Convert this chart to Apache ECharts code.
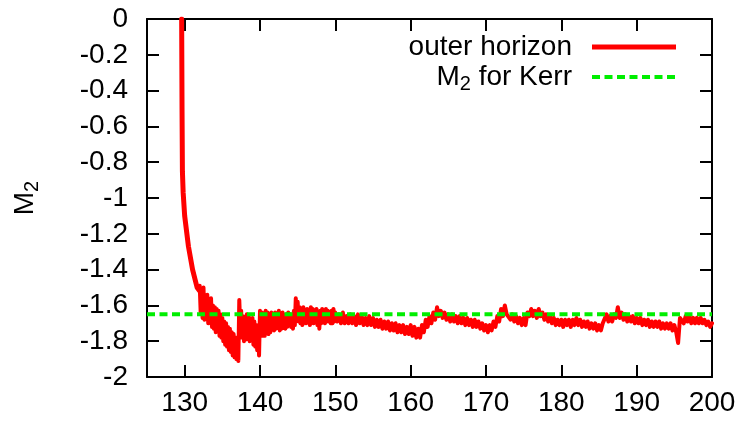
<!DOCTYPE html>
<html>
<head>
<meta charset="utf-8">
<script src="https://cdn.jsdelivr.net/npm/echarts@6/dist/echarts.min.js"></script>
<style>
html,body{margin:0;padding:0;background:#fff;}
#c{width:742px;height:421px;}
</style>
</head>
<body>
<div id="c"></div>
<script>
// ---- data ----
var xTicks = [130, 140, 150, 160, 170, 180, 190, 200];
var yTicks = [0, -0.2, -0.4, -0.6, -0.8, -1, -1.2, -1.4, -1.6, -1.8, -2];
// outer horizon: steep initial drop
var horizonSteep = [[129.6, 0], [129.65, -0.5], [129.7, -0.85], [129.8, -0.97], [130.0, -1.10],
  [130.5, -1.27], [131.05, -1.40], [131.65, -1.50], [132.0, -1.52]];
// outer horizon: noisy part (upper/lower extremes of the fluctuating curve)
var horizonNoisy = [
  [132.0, -1.49], [132.125, -1.64], [132.25, -1.52], [132.375, -1.67], [132.5, -1.50], [132.625, -1.68],
  [132.75, -1.55], [132.875, -1.67], [133.0, -1.54], [133.125, -1.70], [133.25, -1.57], [133.375, -1.69],
  [133.5, -1.56], [133.625, -1.72], [133.75, -1.60], [133.875, -1.73], [134.0, -1.61], [134.125, -1.75],
  [134.25, -1.62], [134.375, -1.74], [134.5, -1.63], [134.625, -1.77], [134.75, -1.65], [134.875, -1.78],
  [135.0, -1.67], [135.125, -1.80], [135.25, -1.69], [135.375, -1.82], [135.5, -1.70], [135.625, -1.83],
  [135.75, -1.72], [135.875, -1.85], [136.0, -1.73], [136.125, -1.86], [136.25, -1.75], [136.375, -1.88],
  [136.5, -1.76], [136.625, -1.89], [136.75, -1.78], [136.875, -1.90], [137.0, -1.80], [137.125, -1.91],
  [137.25, -1.57], [137.375, -1.72], [137.5, -1.63], [137.625, -1.78], [137.75, -1.66], [137.875, -1.80],
  [138.0, -1.67], [138.125, -1.79], [138.25, -1.65], [138.375, -1.78], [138.5, -1.66], [138.625, -1.80],
  [138.75, -1.68], [138.875, -1.79], [139.0, -1.67], [139.125, -1.82], [139.25, -1.69], [139.375, -1.83],
  [139.5, -1.71], [139.625, -1.85], [139.75, -1.73], [139.875, -1.88], [140.0, -1.63], [140.125, -1.75],
  [140.25, -1.64], [140.375, -1.77], [140.5, -1.65], [140.625, -1.77], [140.75, -1.63], [140.875, -1.75],
  [141.0, -1.64], [141.125, -1.76], [141.25, -1.65], [141.375, -1.75], [141.5, -1.64], [141.625, -1.73],
  [141.75, -1.66], [141.875, -1.74], [142.0, -1.64], [142.125, -1.73], [142.25, -1.65], [142.375, -1.72],
  [142.5, -1.63], [142.625, -1.74], [142.75, -1.65], [142.875, -1.73], [143.0, -1.64], [143.125, -1.72],
  [143.25, -1.66], [143.375, -1.73], [143.5, -1.65], [143.625, -1.72], [143.75, -1.64], [143.875, -1.71],
  [144.0, -1.65], [144.125, -1.72], [144.25, -1.66], [144.375, -1.73], [144.5, -1.63], [144.625, -1.71],
  [144.75, -1.56], [144.875, -1.67], [145.0, -1.58], [145.125, -1.69], [145.25, -1.61], [145.375, -1.70],
  [145.5, -1.62], [145.625, -1.71], [145.75, -1.61], [145.875, -1.69], [146.0, -1.63], [146.125, -1.70],
  [146.25, -1.62], [146.375, -1.69], [146.5, -1.64], [146.625, -1.71], [146.75, -1.61], [146.875, -1.69],
  [147.0, -1.62], [147.125, -1.70], [147.25, -1.63], [147.375, -1.69], [147.5, -1.62], [147.625, -1.71],
  [147.75, -1.64], [147.875, -1.73], [148.0, -1.63], [148.125, -1.70], [148.25, -1.62], [148.375, -1.69],
  [148.5, -1.63], [148.625, -1.70], [148.75, -1.62], [148.875, -1.69], [149.0, -1.63], [149.125, -1.69],
  [149.25, -1.64], [149.375, -1.70], [149.5, -1.63], [149.625, -1.70], [149.75, -1.62], [149.875, -1.69]
];
// outer horizon: settled part
var horizonSettled = [
  [150.0, -1.64], [150.25, -1.69], [150.5, -1.65], [150.75, -1.70], [151.0, -1.64], [151.25, -1.70],
  [151.5, -1.66], [151.75, -1.70], [152.0, -1.65], [152.25, -1.70], [152.5, -1.66], [152.75, -1.71],
  [153.0, -1.65], [153.25, -1.70], [153.5, -1.66], [153.75, -1.71], [154.0, -1.67], [154.25, -1.71],
  [154.5, -1.66], [154.75, -1.71], [155.0, -1.67], [155.25, -1.72], [155.5, -1.68], [155.75, -1.72],
  [156.0, -1.68], [156.25, -1.73], [156.5, -1.69], [156.75, -1.73], [157.0, -1.69], [157.25, -1.74],
  [157.5, -1.70], [157.75, -1.74], [158.0, -1.70], [158.25, -1.75], [158.5, -1.71], [158.75, -1.75],
  [159.0, -1.71], [159.25, -1.76], [159.5, -1.72], [159.75, -1.76], [160.0, -1.71], [160.25, -1.77],
  [160.5, -1.72], [160.75, -1.78], [161.0, -1.73], [161.25, -1.78], [161.5, -1.71], [161.75, -1.75],
  [162.0, -1.68], [162.25, -1.72], [162.5, -1.66], [162.75, -1.70], [163.0, -1.64], [163.25, -1.68],
  [163.5, -1.61], [163.75, -1.66], [164.0, -1.63], [164.25, -1.67], [164.5, -1.64], [164.75, -1.68],
  [165.0, -1.65], [165.25, -1.69], [165.5, -1.65], [165.75, -1.69], [166.0, -1.66], [166.25, -1.70],
  [166.5, -1.66], [166.75, -1.70], [167.0, -1.67], [167.25, -1.71], [167.5, -1.67], [167.75, -1.71],
  [168.0, -1.68], [168.25, -1.72], [168.5, -1.68], [168.75, -1.72], [169.0, -1.69], [169.25, -1.73],
  [169.5, -1.70], [169.75, -1.74], [170.0, -1.71], [170.25, -1.75], [170.5, -1.71], [170.75, -1.74],
  [171.0, -1.69], [171.25, -1.72], [171.5, -1.66], [171.75, -1.69], [172.0, -1.62], [172.25, -1.66],
  [172.5, -1.60], [172.75, -1.65], [173.0, -1.64], [173.25, -1.68], [173.5, -1.65], [173.75, -1.69],
  [174.0, -1.66], [174.25, -1.70], [174.5, -1.67], [174.75, -1.71], [175.0, -1.67], [175.25, -1.71],
  [175.5, -1.64], [175.75, -1.66], [176.0, -1.62], [176.25, -1.66], [176.5, -1.63], [176.75, -1.67],
  [177.0, -1.62], [177.25, -1.66], [177.5, -1.64], [177.75, -1.68], [178.0, -1.65], [178.25, -1.69],
  [178.5, -1.66], [178.75, -1.70], [179.0, -1.67], [179.25, -1.71], [179.5, -1.68], [179.75, -1.71],
  [180.0, -1.68], [180.25, -1.72], [180.5, -1.68], [180.75, -1.71], [181.0, -1.68], [181.25, -1.72],
  [181.5, -1.68], [181.75, -1.71], [182.0, -1.67], [182.25, -1.71], [182.5, -1.68], [182.75, -1.72],
  [183.0, -1.69], [183.25, -1.72], [183.5, -1.69], [183.75, -1.73], [184.0, -1.70], [184.25, -1.73],
  [184.5, -1.70], [184.75, -1.74], [185.0, -1.71], [185.25, -1.74], [185.5, -1.70], [185.75, -1.70],
  [186.0, -1.65], [186.25, -1.69], [186.5, -1.66], [186.75, -1.69], [187.0, -1.65], [187.25, -1.67],
  [187.5, -1.61], [187.75, -1.67], [188.0, -1.64], [188.25, -1.68], [188.5, -1.65], [188.75, -1.69],
  [189.0, -1.66], [189.25, -1.69], [189.5, -1.66], [189.75, -1.70], [190.0, -1.67], [190.25, -1.70],
  [190.5, -1.67], [190.75, -1.71], [191.0, -1.68], [191.25, -1.71], [191.5, -1.68], [191.75, -1.72],
  [192.0, -1.69], [192.25, -1.72], [192.5, -1.69], [192.75, -1.72], [193.0, -1.69], [193.25, -1.73],
  [193.5, -1.70], [193.75, -1.73], [194.0, -1.70], [194.25, -1.73], [194.5, -1.70], [194.75, -1.74],
  [195.0, -1.71], [195.25, -1.75], [195.5, -1.81], [195.75, -1.67], [196.0, -1.66], [196.25, -1.70],
  [196.5, -1.66], [196.75, -1.69], [197.0, -1.66], [197.25, -1.70], [197.5, -1.67], [197.75, -1.70],
  [198.0, -1.67], [198.25, -1.70], [198.5, -1.67], [198.75, -1.70], [199.0, -1.68], [199.25, -1.71],
  [199.5, -1.69], [199.75, -1.72], [200.0, -1.70]
];
var kerrX = [125, 200];
var kerrM2 = [-1.65, -1.65];
var seriesNames = ['outer horizon', 'M\u2082 for Kerr'];

// ---- chart ----
var FONT = 'Liberation Sans, Arial, sans-serif';
var FS = 28;
var RED = '#ff0000', GREEN = '#00ee00';
var chart = echarts.init(document.getElementById('c'), null, { renderer: 'canvas' });
var axisLineStyle = { color: '#000', width: 2 };
var tickStyle = { color: '#000', width: 2 };
var GL = 147, GR = 712, GT = 19, GB = 377;

function lineSeries(name, data, width, z) {
  return {
    name: name, type: 'line', xAxisIndex: 0, yAxisIndex: 0, data: data,
    showSymbol: false, symbol: 'none', clip: true, z: z,
    lineStyle: { color: RED, width: width, join: 'round', cap: 'round' }
  };
}
var subRich = {
  m: { fontFamily: FONT, fontSize: FS, color: '#000', fill: '#000', lineHeight: 40, verticalAlign: 'middle' },
  s: { fontFamily: FONT, fontSize: 20, color: '#000', fill: '#000', lineHeight: 20, padding: [14, 0, 0, 0], verticalAlign: 'middle' }
};

chart.setOption({
  animation: false,
  backgroundColor: '#fff',
  grid: { left: GL, right: 742 - GR, top: GT, bottom: 421 - GB, containLabel: false },
  xAxis: [{
    type: 'value', min: 125, max: 200, position: 'bottom',
    axisLine: { show: true, onZero: false, lineStyle: axisLineStyle },
    axisTick: { show: true, inside: true, length: 12, lineStyle: tickStyle, customValues: xTicks },
    axisLabel: { show: true, margin: 12, fontFamily: FONT, fontSize: FS, color: '#000', customValues: xTicks },
    splitLine: { show: false }
  }, {
    type: 'value', min: 125, max: 200, position: 'top',
    axisLine: { show: true, onZero: false, lineStyle: axisLineStyle },
    axisTick: { show: true, inside: true, length: 12, lineStyle: tickStyle, customValues: xTicks },
    axisLabel: { show: false },
    splitLine: { show: false }
  }],
  yAxis: [{
    type: 'value', min: -2, max: 0, interval: 0.2, position: 'left',
    axisLine: { show: true, onZero: false, lineStyle: axisLineStyle },
    axisTick: { show: true, inside: true, length: 12, lineStyle: tickStyle, customValues: yTicks },
    axisLabel: { show: true, margin: 19, fontFamily: FONT, fontSize: FS, color: '#000', customValues: yTicks,
      formatter: function (v) { return String(Math.round(v * 10) / 10); } },
    splitLine: { show: false },
    name: '{m|M}{s|2}', nameLocation: 'middle', nameGap: 102, nameRotate: 90,
    nameTextStyle: { rich: subRich }
  }, {
    type: 'value', min: -2, max: 0, interval: 0.2, position: 'right',
    axisLine: { show: true, onZero: false, lineStyle: axisLineStyle },
    axisTick: { show: true, inside: true, length: 12, lineStyle: tickStyle, customValues: yTicks },
    axisLabel: { show: false },
    splitLine: { show: false }
  }],
  series: [
    lineSeries(seriesNames[0], horizonSteep, 5, 2),
    lineSeries(seriesNames[0], horizonNoisy, 4, 2),
    lineSeries(seriesNames[0], horizonSettled, 4, 2),
    {
      name: seriesNames[1], type: 'line', xAxisIndex: 0, yAxisIndex: 0,
      data: kerrX.map(function (x, i) { return [x, kerrM2[i]]; }), showSymbol: false, symbol: 'none',
      lineStyle: { color: GREEN, width: 4, type: [8, 4.5] }, z: 3
    }
  ],
  graphic: [
    { type: 'text', x: 572, y: 47,
      style: { text: seriesNames[0], fontFamily: FONT, fontSize: FS, fill: '#000', align: 'right', verticalAlign: 'middle' } },
    { type: 'line', shape: { x1: 592, y1: 47, x2: 676, y2: 47 }, style: { stroke: RED, lineWidth: 5 } },
    { type: 'text', x: 572, y: 77,
      style: { text: '{m|M}{s|2}{m| for Kerr}', align: 'right', verticalAlign: 'middle', rich: subRich } },
    { type: 'line', shape: { x1: 592, y1: 77, x2: 676, y2: 77 }, style: { stroke: GREEN, lineWidth: 4, lineDash: [8, 4.5] } }
  ]
});
</script>
</body>
</html>
